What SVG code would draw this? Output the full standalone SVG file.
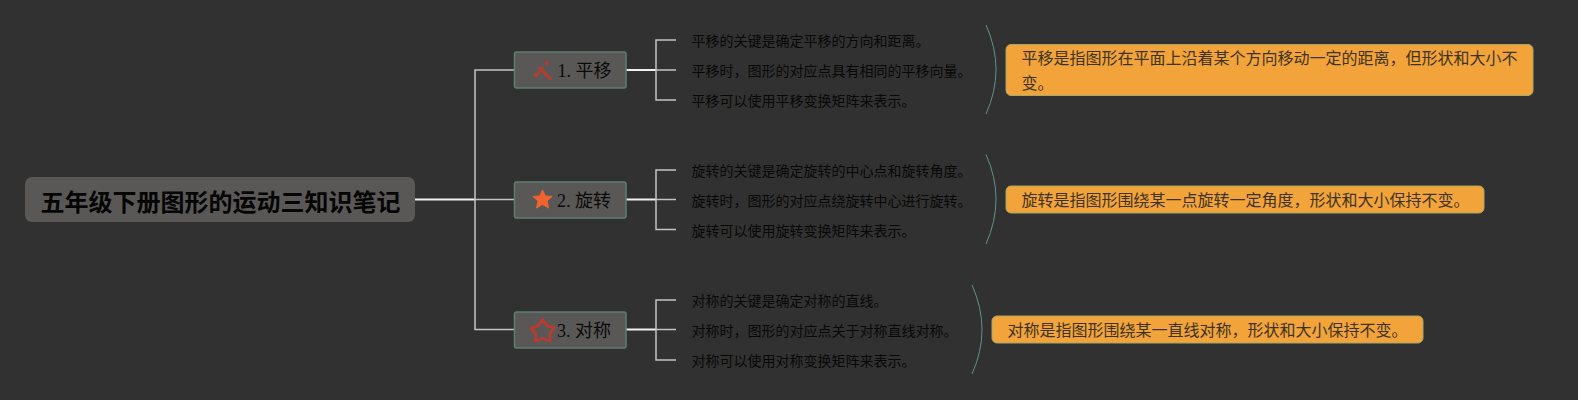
<svg xmlns="http://www.w3.org/2000/svg" width="1578" height="400" viewBox="0 0 1578 400">
<style>
text{font-family:"Liberation Serif","Noto Sans CJK SC",serif;fill:#0a0a0a}
.root{font-family:"Liberation Sans","Noto Sans CJK SC",sans-serif;font-size:24px;font-weight:700;fill:#050505}
.t{font-size:18px}
.leaf{font-size:14px;fill:#080808}
.note{font-size:16px;fill:#3d3320}
.box{fill:#5a5857;stroke:#5c7f74;stroke-width:1.5}
.nb{fill:#f2a33a;stroke:#a8a868;stroke-width:1}
.c{fill:none;stroke:#c4c4c4;stroke-width:1.5}
.s{fill:none;stroke:#f0f0f0;stroke-width:2}
.a{fill:none;stroke:#5f9488;stroke-width:1}
</style>
<rect width="1578" height="400" fill="#313131"/>
<g id="connectors">
<path class="s" d="M415 199.500H475"/>
<path class="c" d="M514.500 70H475V329.500H514.500M475 199.500H514.500"/>
<path class="s" d="M626 70H656M626 199.500H656M626 329.500H656"/>
<path class="c" d="M676 40H656V100H676M656 70H676"/>
<path class="c" d="M676 170H656V229.500H676M656 199.500H676"/>
<path class="c" d="M676 300H656V360H676M656 329.500H676"/>
<path class="a" d="M986 25Q1006 69.500 986 114"/>
<path class="a" d="M986 154.500Q1006 199 986 244"/>
<path class="a" d="M972 285Q992 329.500 972 374"/>
</g>
<g id="root"><rect x="25" y="177" width="390" height="45" rx="7" fill="#5a5857"/><text class="root" x="40.500" y="210.500">五年级下册图形的运动三知识笔记</text></g>
<g id="n1"><rect class="box" x="514.500" y="52" width="111.500" height="36" rx="2"/>
<g stroke="#bb3a2e" fill="#bb3a2e" stroke-linecap="round"><path d="M539.500 68L550.500 79" stroke-width="2.500"/><path d="M536.500 75L543 67.500" stroke-width="1.800"/><circle cx="546.500" cy="63" r="2" stroke="none"/><circle cx="536.500" cy="75" r="2.200" stroke="none"/></g>
<text class="t" x="557.500" y="77">1. 平移</text></g>
<g id="n2"><rect class="box" x="514.500" y="182" width="111.500" height="36" rx="2"/>
<path d="M542.500 190L545.300 195.900L552 196.500L547 201L548.500 208L542.500 204.400L536.500 208L538 201L533 196.500L539.700 195.900Z" fill="#f0652f" stroke="#f0652f" stroke-linejoin="round"/>
<text class="t" x="557" y="206.500">2. 旋转</text></g>
<g id="n3"><rect class="box" x="514.500" y="312" width="111.500" height="36" rx="2"/>
<path d="M542.700 319.500L547.100 325.800L554.400 327.800L549.800 333.800L550 341L542.700 338.500L535.400 341L535.600 333.800L531 327.800L538.300 325.800Z" fill="none" stroke="#bb3a2e" stroke-width="2.800" stroke-linejoin="round"/>
<text class="t" x="557" y="336.500">3. 对称</text></g>
<g id="l11"><text class="leaf" x="691.500" y="46">平移的关键是确定平移的方向和距离。</text></g>
<g id="l12"><text class="leaf" x="691.500" y="76">平移时，图形的对应点具有相同的平移向量。</text></g>
<g id="l13"><text class="leaf" x="691.500" y="106">平移可以使用平移变换矩阵来表示。</text></g>
<g id="l21"><text class="leaf" x="691.500" y="176">旋转的关键是确定旋转的中心点和旋转角度。</text></g>
<g id="l22"><text class="leaf" x="691.500" y="206">旋转时，图形的对应点绕旋转中心进行旋转。</text></g>
<g id="l23"><text class="leaf" x="691.500" y="236">旋转可以使用旋转变换矩阵来表示。</text></g>
<g id="l31"><text class="leaf" x="691.500" y="306">对称的关键是确定对称的直线。</text></g>
<g id="l32"><text class="leaf" x="691.500" y="336">对称时，图形的对应点关于对称直线对称。</text></g>
<g id="l33"><text class="leaf" x="691.500" y="366">对称可以使用对称变换矩阵来表示。</text></g>
<g id="note1"><rect class="nb" x="1006" y="44.500" width="527" height="51" rx="5"/><text class="note" x="1021.500" y="63.500">平移是指图形在平面上沿着某个方向移动一定的距离，但形状和大小不</text><text class="note" x="1021.500" y="88.500">变。</text></g>
<g id="note2"><rect class="nb" x="1006" y="186" width="478" height="27" rx="5"/><text class="note" x="1021.500" y="205.500">旋转是指图形围绕某一点旋转一定角度，形状和大小保持不变。</text></g>
<g id="note3"><rect class="nb" x="992" y="316" width="431" height="27" rx="5"/><text class="note" x="1007.500" y="335.500">对称是指图形围绕某一直线对称，形状和大小保持不变。</text></g>
</svg>
